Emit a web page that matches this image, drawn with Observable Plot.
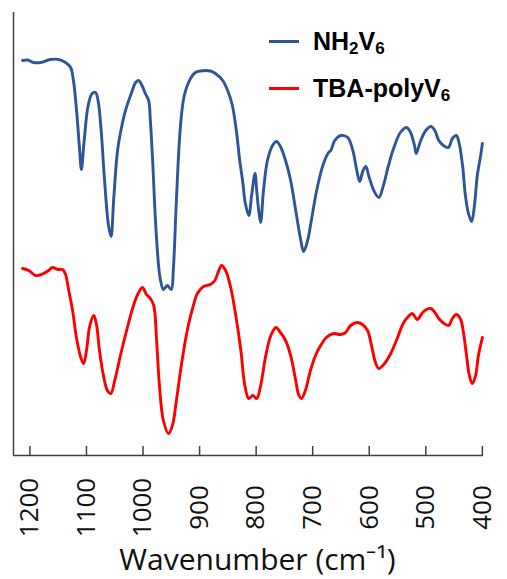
<!DOCTYPE html>
<html>
<head>
<meta charset="utf-8">
<script src="https://cdn.jsdelivr.net/npm/d3@7"></script>
<script src="https://cdn.jsdelivr.net/npm/@observablehq/plot@0.6"></script>
<style>
  html, body { margin: 0; padding: 0; background: #fff; }
  #wrap { position: relative; width: 507px; height: 579px; }
  #wrap svg { display: block; }
  .leg-line { position: absolute; width: 30px; height: 3px; }
  .leg-text { position: absolute; font-family: "Liberation Sans", Arial, sans-serif; font-weight: bold; font-size: 25px; line-height: 24px; color: #000; white-space: nowrap; }
  .leg-text sub { font-size: 17px; vertical-align: -4px; line-height: 0; }
</style>
</head>
<body>
<div id="wrap"></div>
<script>
// ---- data (transmittance in arbitrary units) ----
const seriesNames = ["NH2V6", "TBA-polyV6"];
const seriesColors = ["#2F5597", "#FF0000"];

const wnNH2V6 = [1213,1204,1193.5,1181,1164,1149,1137,1128,1123,1117.5,1112,1109,1104,1097,1090,1084,1079.5,1074,1068,1061,1056.5,1052,1045,1038,1031,1022,1013,1008,1001,996,990,987,983,978,972.5,969,964,957,950,946.5,941,934,927,916,907.5,898.5,881,872,859,849,842,835,829,824,819,813,808,802,799,795,792,787,780,771,764,757,748,739,730,721,716,709,703,693,682,672,668,661,650,638,629,622,617,611,606,601,592,583,575,566,557,545,534,527,520,517,509,500,491,484,477,469,460,453,446,441,435,430,425,419,414,409,403,400];
const tNH2V6 = [395,395.5,393,393,396,396,393,388,375,345,305,286,315,350,362,363,355,325,275,230,219,255,305,328,345,360,373,375,369,362,355,335,295,235,190,175,166,170,166,185,255,328,360,377,383,384.5,384.5,382,375,363,350,325,295,275,252,240,260,282,265,243,233,265,295,310,314,309,295,275,245,215,204,215,233,265,290,303,305,315,320,318,305,285,274,285,289,280,265,258,270,290,307,323,328,323,310,302,315,325,329,325,315,310,308,317,320,312,290,260,243,234,250,280,300,312];

const wnTBA = [1213,1202,1190,1177.5,1167,1160,1151,1142,1137,1132,1124.5,1117.5,1110,1105,1100,1094,1087,1082,1077,1070,1063,1057,1050,1040,1029,1018,1009.5,1001,994,987,981,976,971,964,955,948,941,931,920,911,904,893,881,873,866,861,854,845,836,827,820,813,806,799,792,783,774,765,757,748,739,730,725,720,713,704,695,686,676,663,651,642,633,621,612,603,596,589,583,573,562,552,540,531,524,515,507,499,491,484,477,470,460,453,446,439,434,428,423,418,412,407,400];
const tTBA = [187,185,180,181.5,185,188,186,186,181,167,145,117,98,92,105,130,140,130,105,80,65,62,75,100,125,148,161,168,161,157,150,115,70,35,22,30,55,95,130,150,162,169,171,175,185,190,185,168,140,105,70,57,60,57,70,100,120,128,123,115,100,75,61,57,65,85,100,110,118,122,121,123,130,133,131,125,110,93,87,92,102,115,132,139,142,136,142,146,147,143,137,133,130,137,141,137,125,100,80,72,80,100,118];

const xTicks = [1200, 1100, 1000, 900, 800, 700, 600, 500, 400];
const xDomain = [1229, 398];
const yDomain = [0, 443];
const xLabel = "Wavenumber (cm\u207B\u00B9)";

// ---- build table ----
const rows = [
  ...wnNH2V6.map((w, i) => ({series: seriesNames[0], w, t: tNH2V6[i]})),
  ...wnTBA.map((w, i) => ({series: seriesNames[1], w, t: tTBA[i]}))
];

const axisColor = "#404040";
const chart = Plot.plot({
  width: 507,
  height: 579,
  marginLeft: 13,
  marginRight: 24,
  marginTop: 12,
  marginBottom: 124,
  x: {domain: xDomain, axis: null, label: null},
  y: {domain: yDomain, axis: null, label: null},
  color: {domain: seriesNames, range: seriesColors},
  marks: [
    Plot.line(rows, {x: "w", y: "t", z: "series", stroke: "series", strokeWidth: 2.9, curve: "catmull-rom"}),
    Plot.ruleX([xDomain[0]], {stroke: axisColor, strokeWidth: 1.5}),
    Plot.ruleY([yDomain[0]], {stroke: axisColor, strokeWidth: 1.5}),
    Plot.axisX({ticks: xTicks, tickSize: -9, tickFormat: () => "", label: null, stroke: axisColor, strokeWidth: 1.5}),
    Plot.text(xTicks, {x: d => d, y: yDomain[0], text: d => String(d), rotate: -90, dy: 52,
      textAnchor: "middle", lineAnchor: "middle", fontSize: 26, fontFamily: "Open Sans", fill: "#111"}),
    Plot.text([xLabel], {frameAnchor: "bottom", text: d => d, dx: 9, dy: 114, lineAnchor: "bottom",
      fontSize: 30, fontFamily: "Open Sans", fill: "#111"})
  ]
});

const wrap = document.getElementById("wrap");
wrap.appendChild(chart);

// ---- legend (HTML overlay so the subscripts are real) ----
const legendItems = [
  {color: seriesColors[0], html: "NH<sub>2</sub>V<sub>6</sub>", top: 0},
  {color: seriesColors[1], html: "TBA-polyV<sub>6</sub>", top: 47}
];
for (const it of legendItems) {
  const ln = document.createElement("div");
  ln.className = "leg-line";
  ln.style.left = "269px";
  ln.style.top = (39.5 + it.top) + "px";
  ln.style.background = it.color;
  wrap.appendChild(ln);
  const tx = document.createElement("div");
  tx.className = "leg-text";
  tx.style.left = "313px";
  tx.style.top = (29 + it.top) + "px";
  tx.innerHTML = it.html;
  wrap.appendChild(tx);
}
</script>
</body>
</html>
